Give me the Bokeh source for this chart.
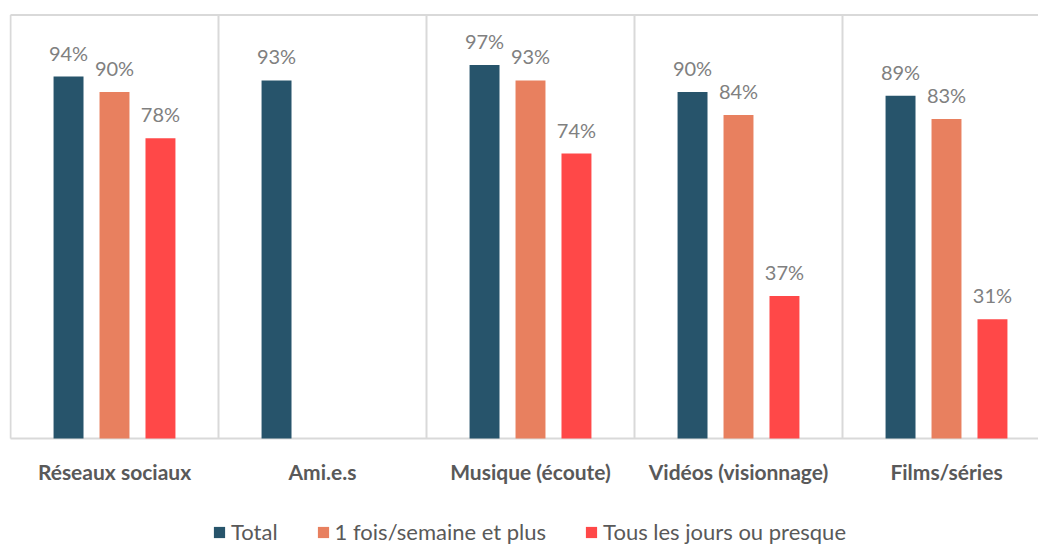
from bokeh.plotting import figure
from bokeh.models import ColumnDataSource, Range1d, Legend, LegendItem
from bokeh.core.properties import value
from bokeh.embed import file_html
from bokeh.resources import INLINE

categories = ["Réseaux sociaux", "Ami.e.s", "Musique (écoute)", "Vidéos (visionnage)", "Films/séries"]
series_names = ["Total", "1 fois/semaine et plus", "Tous les jours ou presque"]
total = [94, 93, 97, 90, 89]
weekly = [90, None, 93, 84, 83]
daily = [78, None, 74, 37, 31]
colors = ["#27546B", "#E8805F", "#FF4848"]
y_max = 110

FONT = "Lato"
offsets = [-0.221, 0.0, 0.221]
bar_w = 0.144
PX_PER_UNIT = 3.85

p = figure(frame_width=1029, frame_height=533, output_backend="svg", toolbar_location=None,
           x_range=Range1d(-1 / 208, -1 / 208 + 1029 / 208),
           y_range=Range1d(-107 / PX_PER_UNIT, 426 / PX_PER_UNIT),
           x_axis_location=None, y_axis_location=None,
           min_border_left=9, min_border_right=0, min_border_top=12, min_border_bottom=0)
p.outline_line_color = None
p.background_fill_color = "white"
p.border_fill_color = "white"
p.grid.visible = False

n = len(categories)
# category separators, top border and baseline
p.segment(x0=list(range(n + 1)), y0=[0] * (n + 1), x1=list(range(n + 1)), y1=[y_max] * (n + 1),
          line_color="#D9D9D9", line_width=2)
p.segment(x0=[0, 0], y0=[0, y_max], x1=[n, n], y1=[0, y_max], line_color="#D9D9D9", line_width=2)

# category labels
p.text(x=[i + 0.5 for i in range(n)], y=[0] * n, text=categories, text_align="center",
       text_baseline="alphabetic", y_offset=33, text_font=value(FONT), text_font_style="bold",
       text_font_size="21px", text_color="#595959")

items = []
for k, (vals, name) in enumerate(zip([total, weekly, daily], series_names)):
    xs, ys, labels = [], [], []
    for i, v in enumerate(vals):
        if v is None:
            continue
        xs.append(i + 0.5 + offsets[k])
        ys.append(v)
        labels.append(f"{v}%")
    src = ColumnDataSource(dict(x=xs, y=ys, label=labels))
    r = p.vbar(x="x", top="y", width=bar_w, bottom=0, source=src,
               fill_color=colors[k], line_color=None)
    p.text(x="x", y="y", text="label", source=src, text_align="center",
           text_baseline="bottom", y_offset=-12, text_font=value(FONT),
           text_font_size="20px", text_color="#808080")
    items.append(LegendItem(label=name, renderers=[r]))

legend = Legend(items=items, orientation="horizontal", location=(203, 0),
                label_text_font=FONT, label_text_font_size="22px", label_text_color="#595959",
                glyph_width=14, glyph_height=14, label_height=20, label_standoff=5,
                spacing=38, padding=0, margin=0, border_line_color=None,
                background_fill_alpha=0)
p.add_layout(legend, "center")

open("out.html", "w").write(file_html(p, INLINE))
